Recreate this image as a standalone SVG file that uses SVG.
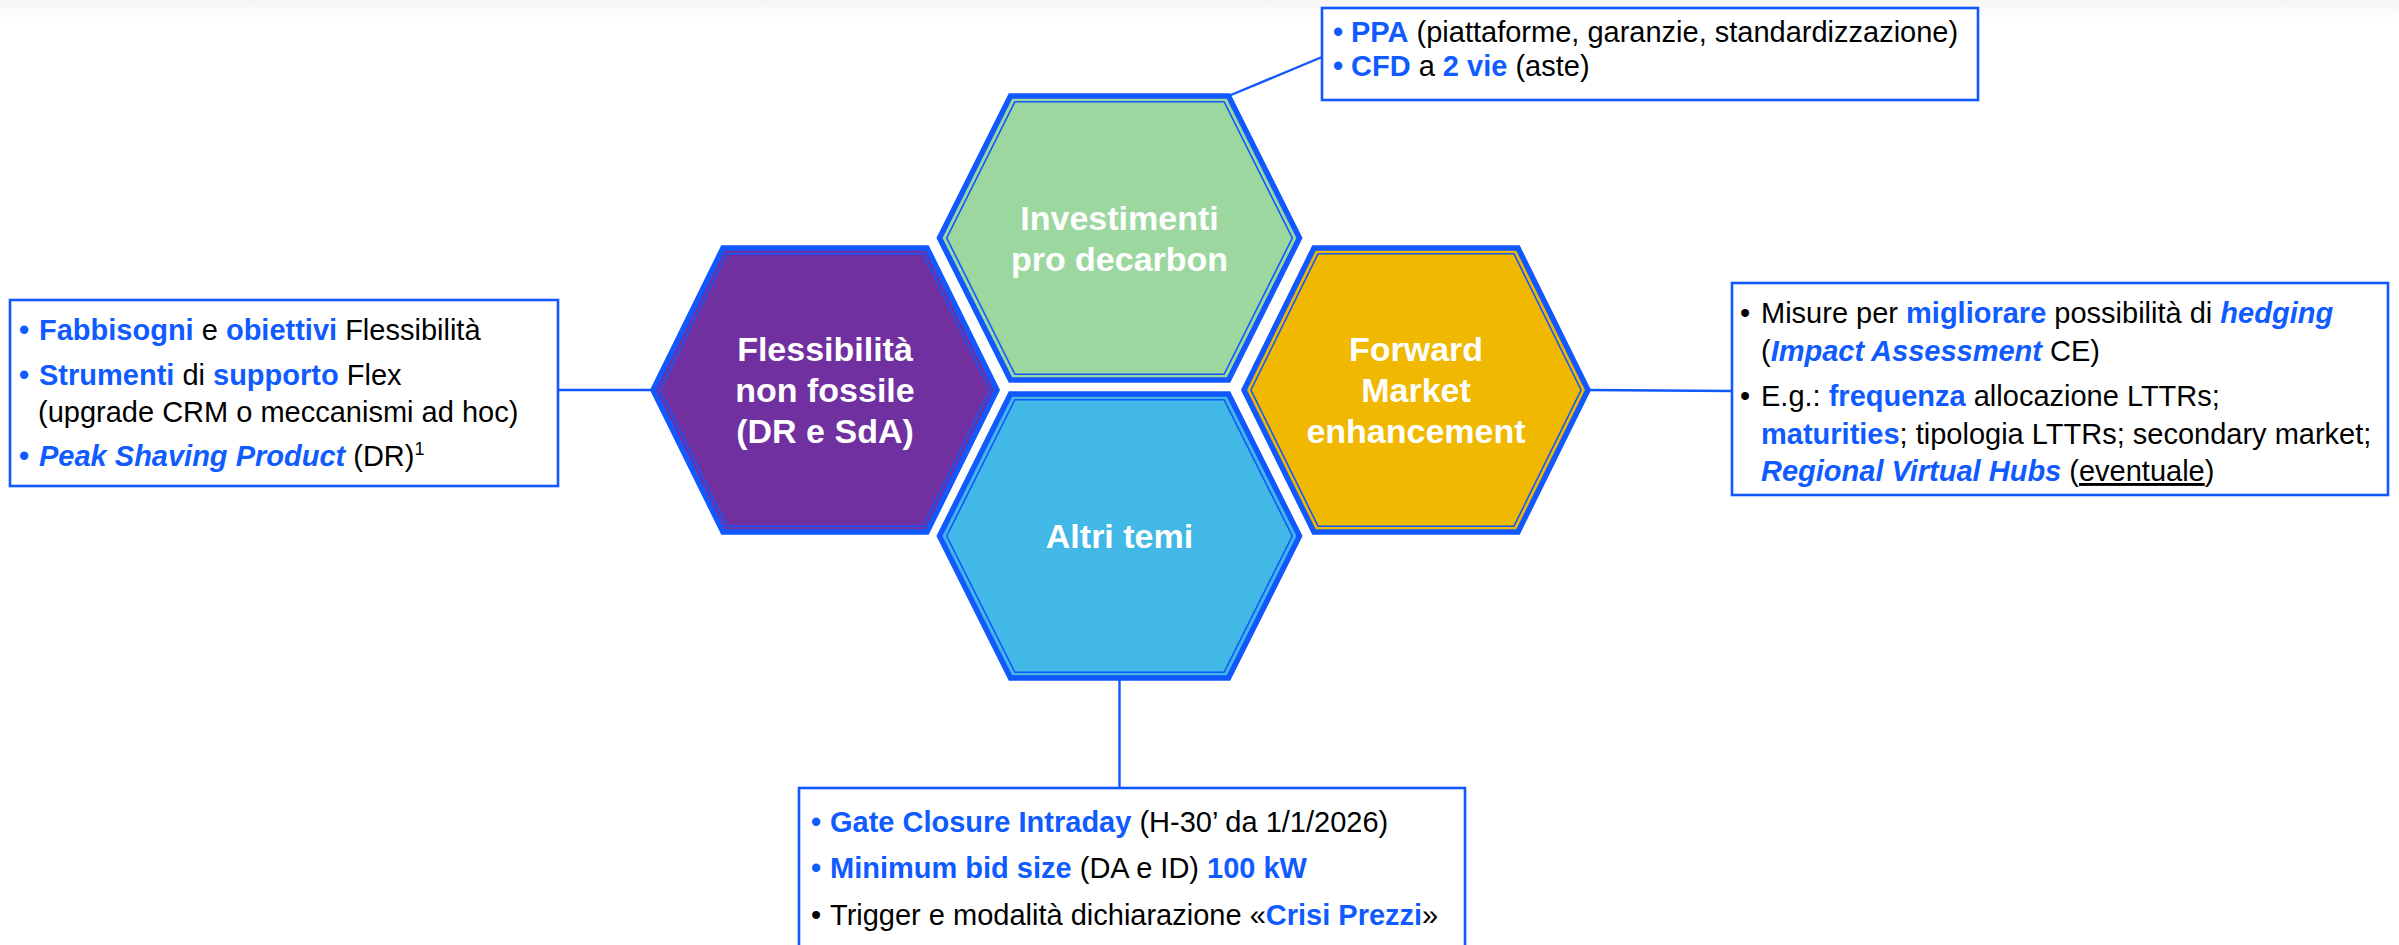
<svg xmlns="http://www.w3.org/2000/svg" width="2399" height="945" viewBox="0 0 2399 945">
  <defs>
    <linearGradient id="topfade" x1="0" y1="0" x2="0" y2="1">
      <stop offset="0" stop-color="#F6F6F6"/>
      <stop offset="1" stop-color="#FFFFFF"/>
    </linearGradient>
    <style>
      .hex { stroke: #1258FF; stroke-width: 5.5; stroke-linejoin: miter; }
      .hexin { fill: none; stroke: #1258FF; stroke-width: 1.6; }
      .htxt { font-family: "Liberation Sans", Arial, sans-serif; font-weight: bold; font-size: 34px; fill: #FFFFFF; text-anchor: middle; }
      .box { fill: #FFFFFF; stroke: #1258FF; stroke-width: 2.6; }
      .conn { stroke: #1258FF; stroke-width: 2.4; fill: none; }
      .t { font-family: "Liberation Sans", Arial, sans-serif; font-size: 29px; fill: #000000; }
      .b { fill: #0F5BFF; font-weight: bold; }
      .bi { fill: #0F5BFF; font-weight: bold; font-style: italic; }
      .u { text-decoration: underline; }
    </style>
  </defs>

  <rect x="0" y="0" width="2399" height="945" fill="#FFFFFF"/>
  <rect x="0" y="0" width="2399" height="26" fill="url(#topfade)"/>

  <g id="connectors">
    <line class="conn" x1="1228.5" y1="96" x2="1322" y2="57"/>
    <line class="conn" x1="653" y1="390" x2="558" y2="390"/>
    <line class="conn" x1="1588" y1="390" x2="1732" y2="391"/>
    <line class="conn" x1="1119.5" y1="678" x2="1119.5" y2="788"/>
  </g>

  <g id="hex-investimenti">
    <polygon class="hex" fill="#9BD79E" points="1010.5,96 1228.5,96 1299.5,238 1228.5,380 1010.5,380 939.5,238"/>
    <polygon class="hexin" points="1014.9,101.7 1224.1,101.7 1292.3,238 1224.1,374.3 1014.9,374.3 946.7,238"/>
    <text class="htxt" x="1119.5" y="230">Investimenti</text>
    <text class="htxt" x="1119.5" y="271">pro decarbon</text>
  </g>

  <g id="hex-flessibilita">
    <polygon class="hex" fill="#7030A0" points="723,248 927,248 997,390 927,532 723,532 653,390"/>
    <polygon class="hexin" points="727.1,253.7 922.9,253.7 990.1,390 922.9,526.3 727.1,526.3 659.9,390"/>
    <text class="htxt" x="825" y="361">Flessibilità</text>
    <text class="htxt" x="825" y="402">non fossile</text>
    <text class="htxt" x="825" y="443">(DR e SdA)</text>
  </g>

  <g id="hex-forward">
    <polygon class="hex" fill="#F0B800" points="1314,248 1518,248 1588,390 1518,532 1314,532 1244,390"/>
    <polygon class="hexin" points="1318.1,253.7 1513.9,253.7 1581.1,390 1513.9,526.3 1318.1,526.3 1250.9,390"/>
    <text class="htxt" x="1416" y="361">Forward</text>
    <text class="htxt" x="1416" y="402">Market</text>
    <text class="htxt" x="1416" y="443">enhancement</text>
  </g>

  <g id="hex-altri">
    <polygon class="hex" fill="#41B8E5" points="1010.5,394 1228.5,394 1299.5,536 1228.5,678 1010.5,678 939.5,536"/>
    <polygon class="hexin" points="1014.9,399.7 1224.1,399.7 1292.3,536 1224.1,672.3 1014.9,672.3 946.7,536"/>
    <text class="htxt" x="1119.5" y="548">Altri temi</text>
  </g>

  <g id="box-ppa">
    <rect class="box" x="1322" y="8" width="656" height="92"/>
    <text class="t" y="42"><tspan class="b" x="1333">•</tspan><tspan class="b" x="1351">PPA</tspan> (piattaforme, garanzie, standardizzazione)</text>
    <text class="t" y="76"><tspan class="b" x="1333">•</tspan><tspan class="b" x="1351">CFD</tspan> a <tspan class="b">2 vie</tspan> (aste)</text>
  </g>

  <g id="box-flex">
    <rect class="box" x="10" y="300" width="548" height="186"/>
    <text class="t" y="340"><tspan class="b" x="19">•</tspan><tspan class="b" x="39">Fabbisogni</tspan> e <tspan class="b">obiettivi</tspan> Flessibilità</text>
    <text class="t" y="385"><tspan class="b" x="19">•</tspan><tspan class="b" x="39">Strumenti</tspan> di <tspan class="b">supporto</tspan> Flex</text>
    <text class="t" x="38" y="422">(upgrade CRM o meccanismi ad hoc)</text>
    <text class="t" y="466"><tspan class="b" x="19">•</tspan><tspan class="bi" x="39">Peak Shaving Product</tspan> (DR)<tspan font-size="18" dy="-11">1</tspan></text>
  </g>

  <g id="box-forward">
    <rect class="box" x="1732" y="283" width="656" height="212"/>
    <text class="t" y="323"><tspan x="1740">•</tspan><tspan x="1761">Misure per </tspan><tspan class="b">migliorare</tspan> possibilità di <tspan class="bi">hedging</tspan></text>
    <text class="t" x="1761" y="361">(<tspan class="bi">Impact Assessment</tspan> CE)</text>
    <text class="t" y="406"><tspan x="1740">•</tspan><tspan x="1761">E.g.: </tspan><tspan class="b">frequenza</tspan> allocazione LTTRs;</text>
    <text class="t" x="1761" y="444"><tspan class="b">maturities</tspan>; tipologia LTTRs; secondary market;</text>
    <text class="t" x="1761" y="481"><tspan class="bi">Regional Virtual Hubs</tspan> (<tspan class="u">eventuale</tspan>)</text>
  </g>

  <g id="box-altri">
    <rect class="box" x="799" y="788" width="666" height="200"/>
    <text class="t" y="832"><tspan class="b" x="811">•</tspan><tspan class="b" x="830">Gate Closure Intraday</tspan> (H-30’ da 1/1/2026)</text>
    <text class="t" y="878"><tspan class="b" x="811">•</tspan><tspan class="b" x="830">Minimum bid size</tspan> (DA e ID) <tspan class="b">100 kW</tspan></text>
    <text class="t" y="925"><tspan x="811">•</tspan><tspan x="830">Trigger e modalità dichiarazione «</tspan><tspan class="b">Crisi Prezzi</tspan>»</text>
  </g>
</svg>
